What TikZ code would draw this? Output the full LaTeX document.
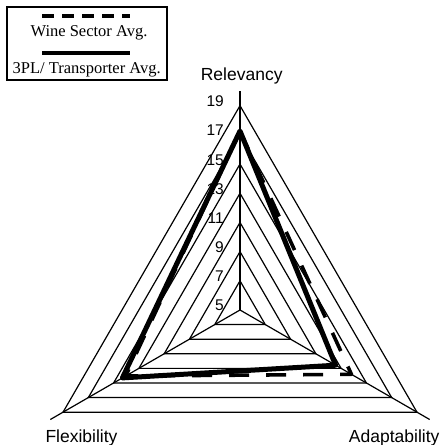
\documentclass[tikz,border=0pt]{standalone}
\usepackage{fontspec}
\usetikzlibrary{calc}
\setmainfont{Liberation Serif}
\newfontfamily\arialf{Liberation Sans}
\begin{document}
\begin{tikzpicture}[x=1pt,y=1pt,
  gridline/.style={line width=1.2pt,line join=miter},
  axislabel/.style={font=\arialf\fontsize{17.5}{20}\selectfont,inner sep=0pt,anchor=base},
  ticklabel/.style={font=\arialf\fontsize{15.5}{18}\selectfont,inner sep=0pt,anchor=base east},
  legtext/.style={font=\fontsize{16.5}{19}\selectfont,inner sep=0pt,anchor=base},
  wineline/.style={line width=3.6pt,dash pattern=on 20pt off 17pt,line join=round},
  tplline/.style={line width=5pt,line join=round},
  legdash/.style={line width=4pt,dash pattern=on 12pt off 8pt},
  legsolid/.style={line width=4pt}]
\useasboundingbox (0,0) rectangle (443,445);
\coordinate (C) at (240,135);
% rings
\foreach \k in {1,...,7}{
  \draw[gridline,shift={(C)}] (90:{\k*29.19}) -- (210:{\k*29.19}) -- (330:{\k*29.19}) -- cycle;
}
% axes
\coordinate (aR) at ($(C)+(90:219)$);
\coordinate (aF) at ($(C)+(210:219)$);
\coordinate (aA) at ($(C)+(330:219)$);
\draw[gridline] (C) -- (aR);
\draw[gridline] (C) -- (aF);
\draw[gridline] (C) -- (aA);
% tick labels
\foreach \k in {0,...,7}{
  \pgfmathtruncatemacro{\v}{5+2*\k}
  \node[ticklabel] (t\k) at (224,{135+\k*29.19-1}) {\v};
}
% axis labels
\node[axislabel] (lR) at (241.7,364.2) {Relevancy};
\node[axislabel] (lF) at (81.5,2.3) {Flexibility};
\node[axislabel] (lA) at (394.2,2.3) {Adaptability};
% data
\coordinate (wR) at ($(C)+(90:179)$);
\coordinate (wF) at ($(C)+(210:132)$);
\coordinate (wA) at ($(C)+(330:128.7)$);
\coordinate (pR) at ($(C)+(90:179)$);
\coordinate (pF) at ($(C)+(210:135.8)$);
\coordinate (pA) at ($(C)+(330:110.4)$);
\draw[wineline] (wR) -- (wA) -- (wF) -- cycle;
\draw[tplline] (pR) -- (pA) -- (pF) -- cycle;
% legend
\node[draw,line width=1.1pt,minimum width=160pt,minimum height=73pt,inner sep=0pt] (leg) at (87,401.5) {};
\coordinate (d1) at (42,429);
\coordinate (d2) at (130,429);
\draw[legdash] (d1) -- (d2);
\coordinate (s1) at (42,392);
\coordinate (s2) at (130,392);
\draw[legsolid] (s1) -- (s2);
\node[legtext] (wt) at (89,408.3) {Wine Sector Avg.};
\node[legtext] (pt) at (86.7,371) {3PL/ Transporter Avg.};
\end{tikzpicture}
\end{document}
